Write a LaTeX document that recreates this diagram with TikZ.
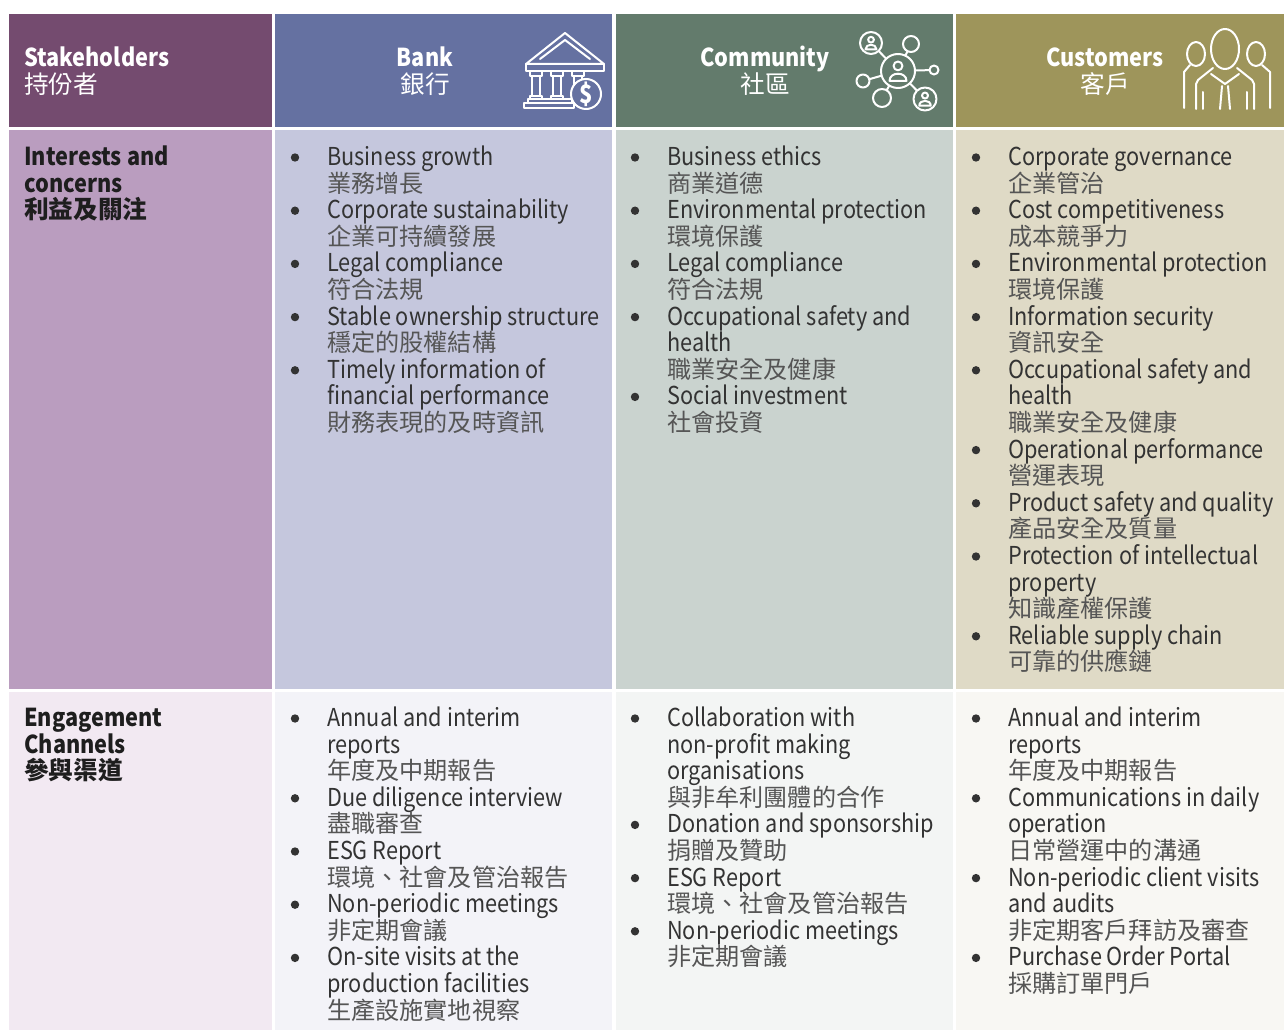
\documentclass[tikz,border=0pt]{standalone}
\usepackage{fontspec}
\setmainfont{Noto Sans CJK TC}[FakeStretch=0.88]
\newfontfamily\zhfont{Noto Sans CJK TC}
\definecolor{hdStake}{HTML}{744B6F}
\definecolor{hdBank}{HTML}{6571A1}
\definecolor{hdComm}{HTML}{637B6C}
\definecolor{hdCust}{HTML}{9E955B}
\definecolor{inStake}{HTML}{BA9DBF}
\definecolor{inBank}{HTML}{C5C7DD}
\definecolor{inComm}{HTML}{CAD3CF}
\definecolor{inCust}{HTML}{DFDAC6}
\definecolor{enStake}{HTML}{F2E9F2}
\definecolor{enBank}{HTML}{F3F3F8}
\definecolor{enComm}{HTML}{F3F5F4}
\definecolor{enCust}{HTML}{F8F7F3}
\definecolor{bodytext}{HTML}{333333}
\definecolor{zhtext}{HTML}{555555}
\definecolor{labtext}{HTML}{1E1E1E}
% 0 = plain line, 1 = bulleted line, 2 = chinese line
\newcommand{\lnk}[1]{\ifcase#1\color{bodytext}\or\color{bodytext}\or\zhfont\fontsize{18.1}{20}\selectfont\color{zhtext}\fi}
\newcommand{\cellcol}[4]{\foreach \txt/\kind [count=\i from 0] in {#4}
  {\node[ln] (#1\i) at (#2,{#3+26.6*\i}) {\lnk{\kind}\txt};
   \ifnum\kind=1 \fill[bodytext] ({#2-32},{#3+26.6*\i-8}) circle[radius=4.2];\fi}}
\newcommand{\persring}[3]{%
  \draw[ico, fill=hdComm] (#1,#2) circle[radius=#3];
  \draw[ico] (#1,{#2-0.3*#3}) circle[radius={0.26*#3}];
  \draw[ico] ({#1-0.5*#3},{#2+0.58*#3}) .. controls ({#1-0.5*#3},{#2+0.02*#3}) and ({#1+0.5*#3},{#2+0.02*#3}) .. ({#1+0.5*#3},{#2+0.58*#3}) -- cycle;}

\begin{document}
\begin{tikzpicture}[x=0.75pt,y=-0.75pt,
  ln/.style={anchor=base west, inner sep=0, text=bodytext, font=\fontsize{18.5}{20}\selectfont},
  hd/.style={anchor=base, inner sep=0, text=white, font=\fontsize{18.5}{20}\selectfont},
  hdl/.style={hd, anchor=base west},
  rowlab/.style={anchor=base west, inner sep=0, text=labtext, font=\fontsize{18.5}{20}\selectfont\bfseries},
  ico/.style={draw=white, line width=1.5pt, line join=round, line cap=round}]
\useasboundingbox (0,0) rectangle (1284,1030);

% header row
\fill[hdStake] (9,14) rectangle (272,127.5);
\fill[hdBank] (275,14) rectangle (612,127.5);
\fill[hdComm] (615.5,14) rectangle (952.5,127.5);
\fill[hdCust] (955.5,14) rectangle (1284,127.5);
% interests row
\fill[inStake] (9,130.5) rectangle (272,689);
\fill[inBank] (275,130.5) rectangle (612,689);
\fill[inComm] (615.5,130.5) rectangle (952.5,689);
\fill[inCust] (955.5,130.5) rectangle (1284,689);
% engagement row
\fill[enStake] (9,691.5) rectangle (272,1030);
\fill[enBank] (275,691.5) rectangle (612,1030);
\fill[enComm] (615.5,691.5) rectangle (952.5,1030);
\fill[enCust] (955.5,691.5) rectangle (1284,1030);

\node[hdl] (stakeEn) at (24,67) {\bfseries Stakeholders};
\node[hdl] (stakeZh) at (24,93.5) {\zhfont 持份者};
\node[hd] (bankEn) at (425,67) {\bfseries Bank};
\node[hd] (bankZh) at (425,93.5) {\zhfont 銀行};
\node[hd] (commEn) at (765,67) {\bfseries Community};
\node[hd] (commZh) at (765,93.5) {\zhfont 社區};
\node[hd] (custEn) at (1105,67) {\bfseries Customers};
\node[hd] (custZh) at (1105,93.5) {\zhfont 客戶};

% bank icon
\draw[ico] (526,64) -- (565,33) -- (604,64) -- cycle;
\draw[ico] (540,59) -- (565,40) -- (590,59);
\draw[ico] (526,64) rectangle (604,71);
\foreach \cx in {536,557,578} {
  \draw[ico] (\cx-6,71) rectangle (\cx+6,76);
  \draw[ico] (\cx-4,76) -- (\cx-4,96);
  \draw[ico] (\cx+4,76) -- (\cx+4,96);
  \draw[ico] (\cx-6,96) rectangle (\cx+6,99);
}
\draw[ico] (528,99) rectangle (572,103);
\draw[ico] (524,103) rectangle (574,108);
\draw[ico, fill=hdBank] (586,94) circle[radius=15];
\node[text=white, font=\fontsize{19}{19}\selectfont\bfseries] (dollar) at (586,94) {\$};

% community icon
\foreach \ox/\oy in {871/43,911/44,934/70,863/81,882/98,925/99}
  \draw[ico] (898,71) -- (\ox,\oy);
\draw[ico, fill=hdComm] (911,44) circle[radius=8];
\draw[ico, fill=hdComm] (934,70) circle[radius=4.5];
\draw[ico, fill=hdComm] (863,81) circle[radius=6.5];
\draw[ico, fill=hdComm] (882,98) circle[radius=9];
\persring{898}{71}{17}
\persring{871}{43}{11}
\persring{925}{99}{11.5}

% customers icon
\draw[ico] (1196,54) ellipse[x radius=9, y radius=12];
\draw[ico] (1256,54) ellipse[x radius=9, y radius=12];
\draw[ico] (1190,65) -- (1184,72) -- (1184,108);
\draw[ico] (1262,65) -- (1270,72) -- (1270,108);
\draw[ico, fill=hdCust] (1225,49) ellipse[x radius=14, y radius=20];
\draw[ico] (1213,68) -- (1198,80) -- (1196,84) -- (1196,109);
\draw[ico] (1237,68) -- (1252,80) -- (1254,84) -- (1254,109);
\draw[ico] (1203,92) -- (1203,109);
\draw[ico] (1247,92) -- (1247,109);
\draw[ico] (1211,74) -- (1225,84) -- (1239,74);
\draw[ico] (1222,86) -- (1220,109);
\draw[ico] (1228,86) -- (1230,109);

% row labels
\node[rowlab] (intA) at (24,165.5) {Interests and};
\node[rowlab] (intB) at (24,192.1) {concerns};
\node[rowlab] (intC) at (24,218.7) {\zhfont\bfseries 利益及關注};
\node[rowlab] (engA) at (24,726.5) {Engagement};
\node[rowlab] (engB) at (24,753.1) {Channels};
\node[rowlab] (engC) at (24,779.7) {\zhfont\bfseries 參與渠道};

% interests and concerns
\cellcol{bankInt}{327}{165.5}{
Business growth/1,
業務增長/2,
Corporate sustainability/1,
企業可持續發展/2,
Legal compliance/1,
符合法規/2,
Stable ownership structure/1,
穩定的股權結構/2,
Timely information of/1,
financial performance/0,
財務表現的及時資訊/2}
\cellcol{commInt}{667}{165.5}{
Business ethics/1,
商業道德/2,
Environmental protection/1,
環境保護/2,
Legal compliance/1,
符合法規/2,
Occupational safety and/1,
health/0,
職業安全及健康/2,
Social investment/1,
社會投資/2}
\cellcol{custInt}{1008}{165.5}{
Corporate governance/1,
企業管治/2,
Cost competitiveness/1,
成本競爭力/2,
Environmental protection/1,
環境保護/2,
Information security/1,
資訊安全/2,
Occupational safety and/1,
health/0,
職業安全及健康/2,
Operational performance/1,
營運表現/2,
Product safety and quality/1,
產品安全及質量/2,
Protection of intellectual/1,
property/0,
知識產權保護/2,
Reliable supply chain/1,
可靠的供應鏈/2}

% engagement channels
\cellcol{bankEng}{327}{726.5}{
Annual and interim/1,
reports/0,
年度及中期報告/2,
Due diligence interview/1,
盡職審查/2,
ESG Report/1,
環境、社會及管治報告/2,
Non-periodic meetings/1,
非定期會議/2,
On-site visits at the/1,
production facilities/0,
生產設施實地視察/2}
\cellcol{commEng}{667}{726.5}{
Collaboration with/1,
non-profit making/0,
organisations/0,
與非牟利團體的合作/2,
Donation and sponsorship/1,
捐贈及贊助/2,
ESG Report/1,
環境、社會及管治報告/2,
Non-periodic meetings/1,
非定期會議/2}
\cellcol{custEng}{1008}{726.5}{
Annual and interim/1,
reports/0,
年度及中期報告/2,
Communications in daily/1,
operation/0,
日常營運中的溝通/2,
Non-periodic client visits/1,
and audits/0,
非定期客戶拜訪及審查/2,
Purchase Order Portal/1,
採購訂單門戶/2}
\end{tikzpicture}
\end{document}
